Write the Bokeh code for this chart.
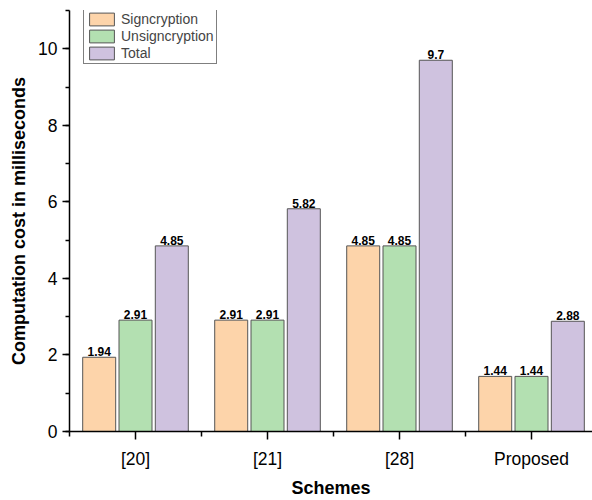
from bokeh.plotting import figure
from bokeh.models import FixedTicker, SingleIntervalTicker, ColumnDataSource, Legend, LegendItem
from bokeh.core.properties import value
from bokeh.embed import file_html
from bokeh.resources import INLINE

categories = ["[20]", "[21]", "[28]", "Proposed"]
signcryption = [1.94, 2.91, 4.85, 1.44]
unsigncryption = [2.91, 2.91, 4.85, 1.44]
total = [4.85, 5.82, 9.7, 2.88]
series_names = ["Signcryption", "Unsigncryption", "Total"]
colors = ["#FDD4AA", "#B3E0B1", "#CFC2DF"]

FONT = "Liberation Sans"
xs = list(range(len(categories)))

p = figure(width=592, height=500, x_range=(-0.5, 3.462), y_range=(0, 11),
           output_backend="svg", toolbar_location=None,
           min_border_left=69, min_border_right=0, min_border_top=10, min_border_bottom=67)
p.outline_line_color = None
p.xgrid.visible = False
p.ygrid.visible = False

offsets = [-0.275, 0.0, 0.275]
renderers = []
for vals, off, col in zip([signcryption, unsigncryption, total], offsets, colors):
    src = ColumnDataSource(dict(x=[x + off for x in xs], top=vals,
                                lab=[("%g" % v) for v in vals]))
    r = p.vbar(x="x", top="top", width=0.25, bottom=0, source=src,
               fill_color=col, line_color="#555555", line_width=1)
    renderers.append(r)
    p.text(x="x", y="top", text="lab", source=src, text_align="center",
           text_baseline="bottom", y_offset=-1, text_font=value(FONT),
           text_font_style="bold", text_font_size="12px", text_color="black")

legend = Legend(items=[LegendItem(label=n, renderers=[r]) for n, r in zip(series_names, renderers)],
                location=(14, 367), glyph_width=31, glyph_height=16, spacing=1,
                padding=2, margin=0, label_standoff=4, label_text_font=FONT,
                label_text_font_size="14px", border_line_color="black",
                border_line_width=1, label_height=16, label_text_line_height=1.1)
p.add_layout(legend)

# x axis
p.xaxis.ticker = FixedTicker(ticks=xs, minor_ticks=[-0.5, 0.5, 1.5, 2.5, 3.5])
p.xaxis.major_label_overrides = {i: c for i, c in enumerate(categories)}
p.xaxis.axis_label = "Schemes"
p.xaxis.axis_label_text_font = FONT
p.xaxis.axis_label_text_font_style = "bold"
p.xaxis.axis_label_text_font_size = "18px"
p.xaxis.axis_label_standoff = 6
p.xaxis.major_label_text_font = FONT
p.xaxis.major_label_text_font_size = "17.5px"
p.xaxis.major_label_standoff = 9

# y axis
p.yaxis.ticker = SingleIntervalTicker(interval=2, num_minor_ticks=2)
p.yaxis.axis_label = "Computation cost in milliseconds"
p.yaxis.axis_label_text_font = FONT
p.yaxis.axis_label_text_font_style = "bold"
p.yaxis.axis_label_text_font_size = "18px"
p.yaxis.axis_label_standoff = 6
p.yaxis.major_label_text_font = FONT
p.yaxis.major_label_text_font_size = "17.5px"
p.yaxis.major_label_standoff = 5

for ax in (p.xaxis, p.yaxis):
    ax.axis_line_width = 1.5
    ax.axis_line_color = "black"
    ax.major_tick_line_color = "black"
    ax.minor_tick_line_color = "black"
    ax.major_tick_line_width = 1.5
    ax.minor_tick_line_width = 1.5
    ax.major_tick_in = 0
    ax.minor_tick_in = 0
    ax.major_tick_out = 7
    ax.minor_tick_out = 4
    ax.major_label_text_color = "black"
    ax.axis_label_text_color = "black"
p.xaxis.major_tick_out = 8
p.xaxis.minor_tick_out = 5

open("out.html", "w").write(file_html(p, INLINE))
